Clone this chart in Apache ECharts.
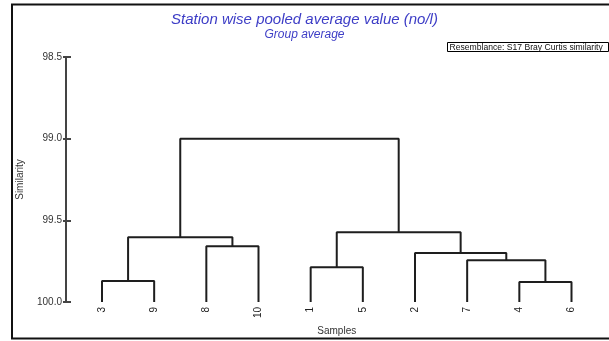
<!DOCTYPE html>
<html><head><meta charset="utf-8">
<script src="https://cdn.jsdelivr.net/npm/echarts@6/dist/echarts.min.js"></script>
<style>html,body{margin:0;padding:0;background:#fff}#c{width:609px;height:341px}</style>
</head><body><div id="c"></div><script>
// Leaf order along the bottom of the dendrogram
const samples = ['3', '9', '8', '10', '1', '5', '2', '7', '4', '6'];
// Merge steps: ids 0-9 are leaves (by position), id 10+k is merge step k
const mergeLeft  = [0, 8, 4, 7, 6, 2, 10, 12, 16];
const mergeRight = [1, 9, 5, 11, 13, 3, 15, 14, 17];
const mergeSimilarity = [99.872, 99.878, 99.787, 99.744, 99.70, 99.659, 99.604, 99.573, 99.0];
const yTicks = [98.5, 99.0, 99.5, 100.0];
const leafLevel = 100.0;

const pos = samples.map((_, i) => i);
const lev = samples.map(() => leafLevel);
const series = [];
mergeLeft.forEach((l, k) => {
  const r = mergeRight[k], h = mergeSimilarity[k];
  series.push({
    type: 'line', symbol: 'none', silent: true, animation: false,
    lineStyle: { color: '#1e1e1e', width: 2 },
    data: [[pos[l], lev[l]], [pos[l], h], [pos[r], h], [pos[r], lev[r]]]
  });
  pos.push((pos[l] + pos[r]) / 2);
  lev.push(h);
});

const yBase = {
  type: 'value', inverse: true, position: 'left', offset: 36,
  min: yTicks[0], max: yTicks[yTicks.length - 1], interval: 0.5,
  splitLine: { show: false }
};

const chart = echarts.init(document.getElementById('c'), null, { renderer: 'canvas' });
chart.setOption({
  backgroundColor: '#fff',
  animation: false,
  title: {
    left: 'center', top: 7, itemGap: 2,
    text: 'Station wise pooled average value (no/l)',
    subtext: 'Group average',
    textStyle: { fontFamily: 'Liberation Sans, Arial', fontStyle: 'italic', fontWeight: 'normal', fontSize: 15, color: '#3d3dc6' },
    subtextStyle: { fontFamily: 'Liberation Sans, Arial', fontStyle: 'italic', fontSize: 12, color: '#3d3dc6' }
  },
  grid: { left: 102, right: 37.5, top: 57, bottom: 38, containLabel: false },
  xAxis: {
    type: 'value', min: 0, max: samples.length - 1, interval: 1,
    name: 'Samples', nameLocation: 'middle', nameGap: 20,
    nameTextStyle: { fontFamily: 'Liberation Sans, Arial', fontSize: 10, color: '#333' },
    axisLine: { show: false }, axisTick: { show: false }, splitLine: { show: false },
    axisLabel: {
      rotate: 90, margin: 5, fontFamily: 'Liberation Sans, Arial', fontSize: 10, color: '#222',
      formatter: v => samples[v] ?? ''
    }
  },
  yAxis: [
    Object.assign({}, yBase, {
      name: 'Similarity', nameLocation: 'middle', nameGap: 41, nameRotate: 90,
      nameTextStyle: { fontFamily: 'Liberation Sans, Arial', fontSize: 10, color: '#333' },
      axisLine: { show: true, onZero: false, lineStyle: { color: '#444', width: 2 } },
      axisTick: { show: true, inside: false, length: 3, lineStyle: { color: '#444', width: 2 } },
      axisLabel: { margin: 4, fontFamily: 'Liberation Sans, Arial', fontSize: 10, color: '#333',
        formatter: v => v.toFixed(1) }
    }),
    Object.assign({}, yBase, {
      axisLine: { show: false, onZero: false },
      axisTick: { show: true, inside: true, length: 5, lineStyle: { color: '#444', width: 2 } },
      axisLabel: { show: false }
    })
  ],
  series: series,
  graphic: [
    { type: 'rect', silent: true, z: 100,
      shape: { x: 12, y: 4.5, width: 610, height: 334 },
      style: { fill: 'none', stroke: '#111', lineWidth: 2 } },
    { type: 'group', left: 447, top: 42, z: 100, children: [
      { type: 'rect', shape: { x: 0, y: 0, width: 161, height: 9 },
        style: { fill: '#fff', stroke: '#000', lineWidth: 1 } },
      { type: 'text', x: 2, y: 5,
        style: { text: 'Resemblance: S17 Bray Curtis similarity', font: '8.6px "Liberation Sans", Arial',
          fill: '#111', verticalAlign: 'middle' } }
    ]}
  ]
});
</script></body></html>
